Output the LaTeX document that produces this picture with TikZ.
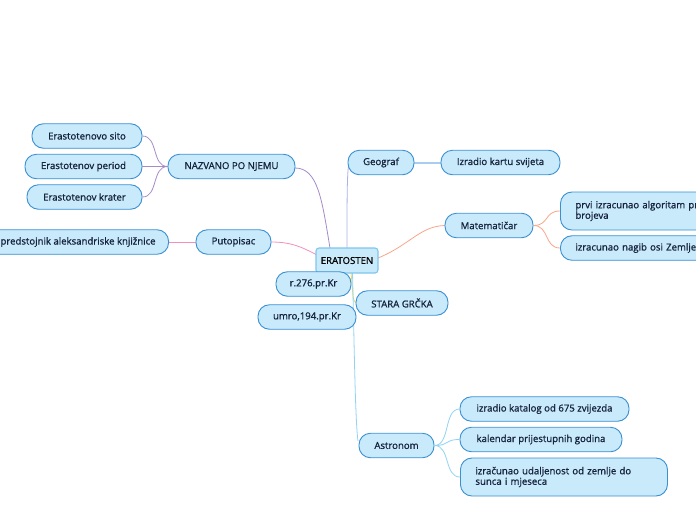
\documentclass[tikz,border=0pt]{standalone}
\usepackage{fontspec}
\setmainfont{Open Sans}[FakeBold=1.0]
\usetikzlibrary{calc}
\definecolor{boxfill}{HTML}{C8EAFA}
\definecolor{boxline}{HTML}{3A90D2}
\definecolor{txt}{HTML}{16233D}
\definecolor{cpurple}{HTML}{A78BC8}
\definecolor{cpink}{HTML}{F490BE}
\definecolor{cperi}{HTML}{A9B4E6}
\definecolor{cgeo}{HTML}{A9CDF0}
\definecolor{csalmon}{HTML}{F8A68A}
\definecolor{cyellow}{HTML}{E6DC6A}
\definecolor{cblue}{HTML}{92D3F4}
\tikzset{
  topic/.style={draw=boxline, fill=boxfill, line width=0.9pt, rounded corners=11.5pt,
    minimum height=24.5pt, inner sep=0pt, text=txt, font=\fontsize{9.6}{11.5}\selectfont},
  central/.style={draw=cblue!80!boxline, fill=boxfill, line width=1.1pt, rounded corners=3pt,
    minimum height=25pt, minimum width=62pt, inner sep=0pt, text=black, font=\fontsize{9.6}{11.5}\selectfont},
  conn/.style={line width=0.8pt}
}
\begin{document}
\begin{tikzpicture}[x=1pt,y=-1pt]
\path[use as bounding box, clip] (0,0) rectangle (696,520);
\fill[white] (0,0) rectangle (696,520);

% connector end points
\coordinate (eraN1) at (330,248);
\coordinate (eraW1) at (317,255);
\coordinate (eraS1) at (351,273);
\coordinate (eraS2) at (352.5,273);
\coordinate (eraE1) at (378,258);
\coordinate (astIn) at (358,441);

% connectors (drawn first, under boxes)
\draw[conn, cpurple] (eraN1) .. controls (322,200) and (318,168) .. (295,168);
\draw[conn, cpink] (eraW1) .. controls (300,246) and (290,242) .. (271,242);
\draw[conn, cpink] (196,242) -- (169,242);
\draw[conn, cperi] (347,248) .. controls (347,200) and (347,170) .. (349,164);
\draw[line width=2pt, cgeo] (414,162.5) -- (441,162.5);
\draw[conn, csalmon] (eraE1) .. controls (410,245) and (420,226) .. (445,225.5);
\draw[conn, cyellow] (eraS1) .. controls (353,290) and (352,303) .. (357,303);
\draw[conn, cblue] (eraS2) .. controls (354,330) and (355,420) .. (astIn);

% nodes
\node[central] (era) at (347,260.5) {ERATOSTEN};
\node[topic, minimum width=127pt] (naz) at (231.5,166.5) {NAZVANO PO NJEMU};
\node[topic, minimum width=110pt] (sito) at (87,136) {Erastotenovo sito};
\node[topic, minimum width=117pt] (period) at (83.5,166.5) {Erastotenov period};
\node[topic, minimum width=115pt] (krater) at (84.5,197) {Erastotenov krater};
\node[topic, minimum width=75pt] (put) at (233.5,242) {Putopisac};
\node[topic, anchor=east, inner xsep=13pt] (pred) at (169,242) {predstojnik aleksandriske knjižnice};
\node[topic, minimum width=66pt] (geo) at (381,162.5) {Geograf};
\node[topic, minimum width=119pt] (karta) at (500.5,162.5) {Izradio kartu svijeta};
\node[topic, minimum width=88pt] (mat) at (489,225.5) {Matematičar};
\node[topic, anchor=west, minimum height=38pt, text width=190pt, align=left,
  inner xsep=15pt] (prvi) at (560,211) {prvi izracunao algoritam prostih\\[-1pt] brojeva};
\node[topic, anchor=west, text width=190pt, align=left, inner xsep=15pt] (nagib) at (560,248) {izracunao nagib osi Zemlje};
\node[topic, minimum width=75pt] (rod) at (313.5,284) {r.276.pr.Kr};
\node[topic, minimum width=98pt] (umro) at (307,317) {umro,194.pr.Kr};
\node[topic, minimum width=92pt] (stara) at (402,303) {STARA GRČKA};
\node[topic, minimum width=75pt] (ast) at (396.5,445.5) {Astronom};
\node[topic, minimum width=169pt] (kat) at (544.5,409) {izradio katalog od 675 zvijezda};
\node[topic, minimum width=162pt] (kal) at (541,439.5) {kalendar prijestupnih godina};
\node[topic, anchor=west, minimum height=38pt, minimum width=207pt, text width=177pt, align=left,
  inner xsep=15pt] (udalj) at (460,477) {izračunao udaljenost od zemlje do\\[-1pt] sunca i mjeseca};

% child connectors
\foreach \c in {sito,period,krater}
  \draw[conn, cpurple] (naz.west) .. controls +(-16,0) and +(16,0) .. (\c.east);
\foreach \c in {prvi,nagib}
  \draw[conn, csalmon] (mat.east) .. controls +(16,0) and +(-16,0) .. (\c.west);
\foreach \c in {kat,kal,udalj}
  \draw[conn, cblue] (ast.east) .. controls +(16,0) and +(-16,0) .. (\c.west);
\end{tikzpicture}
\end{document}
